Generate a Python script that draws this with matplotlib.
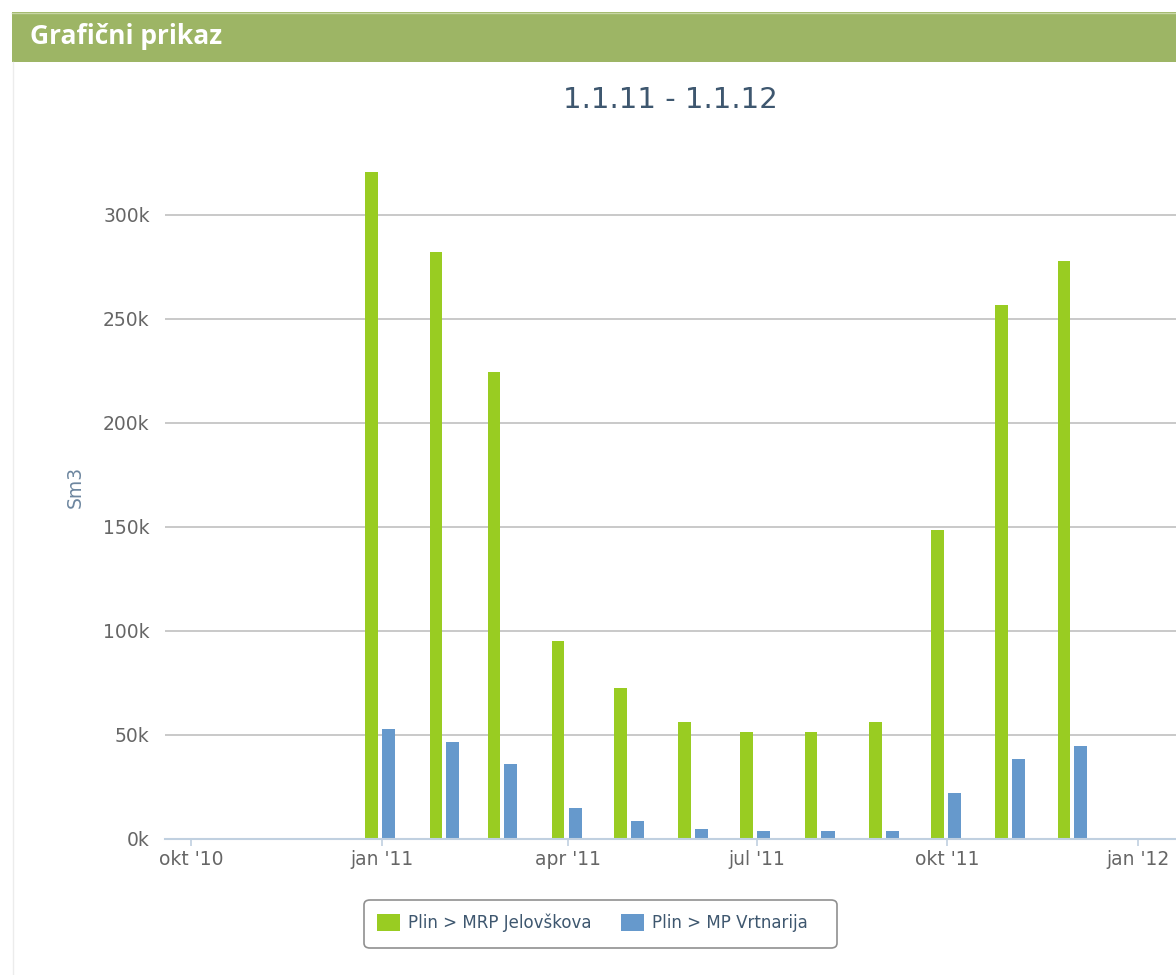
import matplotlib
matplotlib.use("Agg")
import matplotlib.pyplot as plt
import matplotlib.dates as mdates
from matplotlib.patches import Rectangle, Patch, FancyBboxPatch
from matplotlib.lines import Line2D
import datetime as dt

# Monthly gas consumption, 2011 (Sm3)
months = ["2011-01-01", "2011-02-01", "2011-03-01", "2011-04-01",
		"2011-05-01", "2011-06-01", "2011-07-01", "2011-08-01",
		"2011-09-01", "2011-10-01", "2011-11-01", "2011-12-01"]
jelovskova = [320300, 281900, 224200, 94900, 72500, 56100,
		51600, 51600, 56100, 148600, 256300, 277600]
vrtnarija = [52900, 46600, 36000, 15100, 8800, 4700,
		3800, 3800, 3800, 22000, 38600, 44700]

series_names = ["Plin > MRP Jelovškova", "Plin > MP Vrtnarija"]
tick_dates = ["2010-10-01", "2011-01-01", "2011-04-01",
		"2011-07-01", "2011-10-01", "2012-01-01"]
tick_labels = ["okt '10", "jan '11", "apr '11", "jul '11", "okt '11", "jan '12"]
y_ticks = [0, 50000, 100000, 150000, 200000, 250000, 300000]

green = '#99cc22'
blue = '#6699cc'

W, H = 1176, 975
fig = plt.figure(figsize=(W / 100, H / 100), dpi=100)

# Header bar
fig.patches.append(Rectangle((12 / W, 1 - 62 / H), (W - 12) / W, 50 / H,
		transform=fig.transFigure, facecolor='#9db565', edgecolor='none'))
fig.lines.append(Line2D([12 / W, 1], [1 - 12.5 / H, 1 - 12.5 / H],
		transform=fig.transFigure, color='#c8d6a6', lw=1))
fig.lines.append(Line2D([13 / W, 13 / W], [0, 1 - 62 / H],
		transform=fig.transFigure, color='#ececec', lw=1))
fig.text(30 / W, 1 - 37 / H, "Grafični prikaz", color='white',
		fontsize=19, fontweight='bold', family='Open Sans', va='center', ha='left')

# Plot area
ax = fig.add_axes([165 / W, 1 - 839 / H, 1 - 165 / W, (839 - 150) / H])

x = mdates.date2num([dt.datetime.strptime(d, '%Y-%m-%d') for d in months])
ax.bar(x - 4.8, jelovskova, width=6.1, color=green, zorder=3)
ax.bar(x + 3.4, vrtnarija, width=6.3, color=blue, zorder=3)

tx = mdates.date2num([dt.datetime.strptime(d, '%Y-%m-%d') for d in tick_dates])
ax.set_xlim(tx[0] - 12.5, tx[-1] + 18.3)
ax.set_ylim(0, 331000)

ax.set_xticks(tx)
ax.set_xticklabels(tick_labels)
ax.set_yticks(y_ticks)
ax.set_yticklabels([str(v // 1000) + 'k' for v in y_ticks])

ax.yaxis.grid(True, color='#c0c0c0', lw=1.2)
ax.set_axisbelow(True)
for s in ['left', 'right', 'top']:
	ax.spines[s].set_visible(False)
ax.spines['bottom'].set_color('#c0d0e0')
ax.spines['bottom'].set_linewidth(1.5)
ax.spines['bottom'].set_zorder(4)

ax.tick_params(axis='y', length=0, pad=11, labelsize=13.5, labelcolor='#666666')
ax.tick_params(axis='x', length=5, width=1.2, color='#c0d0e0', pad=3,
		labelsize=13.5, labelcolor='#666666')

# Titles
fig.text(670 / W, 1 - 100 / H, "1.1.11 - 1.1.12", fontsize=21, color='#3e576f',
		ha='center', va='center')
fig.text(75 / W, 1 - 487 / H, "Sm3", rotation=90, fontsize=13.5, color='#6d869f',
		ha='center', va='center')

# Legend box (drawn separately to match the wider right padding)
fig.patches.append(FancyBboxPatch((364 / W, 1 - 948 / H), (837 - 364) / W, 48 / H,
		boxstyle='round,pad=0,rounding_size=0.005', transform=fig.transFigure,
		facecolor='white', edgecolor='#909090', lw=1.2))
handles = [Patch(facecolor=green, edgecolor='none'), Patch(facecolor=blue, edgecolor='none')]
leg = fig.legend(handles, series_names, loc='center left', bbox_to_anchor=(377 / W, 1 - 923 / H),
		ncol=2, fontsize=12, frameon=False, borderpad=0, borderaxespad=0,
		handlelength=1.38, handleheight=1.25, handletextpad=0.5, columnspacing=1.75)
for t in leg.get_texts():
	t.set_color('#3e576f')

plt.savefig('out.png', dpi=100)
print('Figure saved.')
